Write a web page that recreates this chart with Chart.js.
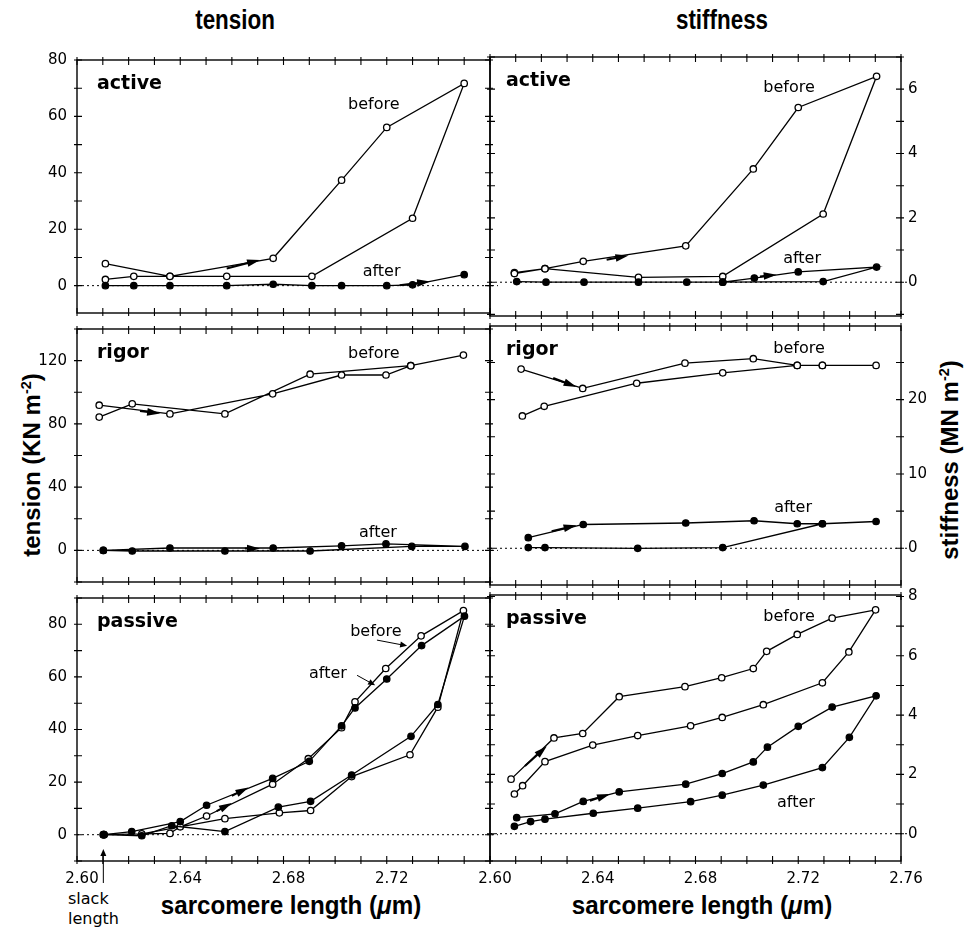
<!DOCTYPE html>
<html>
<head>
<meta charset="utf-8">
<script src="https://cdn.jsdelivr.net/npm/chart.js@4.4.1/dist/chart.umd.min.js"></script>
<style>
  body { margin: 0; background: #fff; }
  #wrap { position: relative; width: 964px; height: 932px; overflow: hidden; font-family: "Liberation Sans", Arial, sans-serif; color: #000; }
  canvas { position: absolute; }
  .txt { position: absolute; white-space: nowrap; }
  .title { font-weight: bold; font-size: 28px; transform: translate(-50%, -50%) scaleX(0.8); }
  .ytitle { font-weight: bold; font-size: 24px; transform: translate(-50%, -50%) rotate(-90deg); }
  .xtitle { font-weight: bold; font-size: 26px; transform: translate(-50%, -50%) scaleX(0.93); }
  sup { font-size: 0.6em; }
</style>
</head>
<body>
<div id="wrap">
  <div class="txt title" style="left:235px; top:20px;">tension</div>
  <div class="txt title" style="left:722px; top:20px;">stiffness</div>
  <div class="txt ytitle" style="left:32px; top:465px;">tension (KN m<sup>-2</sup>)</div>
  <div class="txt ytitle" style="left:950px; top:460px;">stiffness (MN m<sup>-2</sup>)</div>
  <div class="txt xtitle" style="left:291px; top:905px;">sarcomere length (<i>μ</i>m)</div>
  <div class="txt xtitle" style="left:702px; top:905px;">sarcomere length (<i>μ</i>m)</div>
  <div class="txt" style="left:68px; top:889px; font: 16px 'DejaVu Sans'; line-height:20px;">slack<br>length</div>
</div>
<script>
// x axis (sarcomere length, um)
const xTicks = [2.60, 2.64, 2.68, 2.72, 2.76];
const xTicksLeft = [2.60, 2.64, 2.68, 2.72];

// y tick labels
const tensionActiveTicks = [0, 20, 40, 60, 80];
const tensionRigorTicks = [0, 40, 80, 120];
const tensionPassiveTicks = [0, 20, 40, 60, 80];
const stiffActiveTicks = [0, 2, 4, 6];
const stiffRigorTicks = [0, 10, 20];
const stiffPassiveTicks = [0, 2, 4, 6, 8];

// [sarcomere length, value] in the order the loop was traced
const activeTensionBefore = [[2.611, 7.8], [2.636, 3.3], [2.676, 9.7], [2.7025, 37.4], [2.720, 56.1], [2.750, 71.7], [2.730, 23.9], [2.691, 3.3], [2.658, 3.3], [2.636, 3.3], [2.622, 3.3], [2.611, 2.2]];
const activeTensionAfter = [[2.611, 0], [2.622, 0], [2.636, 0], [2.658, 0], [2.676, 0.5], [2.691, 0], [2.7025, 0], [2.720, 0], [2.730, 0.3], [2.750, 3.9]];

const activeStiffBefore = [[2.6095, 0.30], [2.6214, 0.42], [2.6363, 0.65], [2.6762, 1.13], [2.7025, 3.52], [2.720, 5.43], [2.7505, 6.40], [2.7297, 2.12], [2.6906, 0.18], [2.6578, 0.15], [2.6214, 0.42], [2.6095, 0.27]];
const activeStiffAfter = [[2.6104, 0.02], [2.6218, 0], [2.6366, 0], [2.6578, 0], [2.6766, 0], [2.6906, 0], [2.7029, 0.13], [2.720, 0.32], [2.7505, 0.47], [2.7297, 0.02], [2.6906, 0]];

const rigorTensionBefore = [[2.6086, 91.8], [2.636, 86.3], [2.6758, 99.0], [2.7025, 110.9], [2.7197, 110.9], [2.7293, 116.8], [2.7497, 123.5], [2.7293, 116.8], [2.6903, 111.4], [2.6573, 86.3], [2.6214, 92.7], [2.6086, 84.3]];
const rigorTensionAfter = [[2.6102, 0], [2.636, 1.5], [2.676, 1.5], [2.7025, 2.9], [2.7197, 4.1], [2.7503, 2.5], [2.7297, 2.5], [2.6903, -0.4], [2.6573, -0.4], [2.6214, -0.4], [2.6102, 0]];

const rigorStiffBefore = [[2.6121, 24.1], [2.6361, 21.5], [2.6759, 24.9], [2.7025, 25.5], [2.7196, 24.6], [2.7294, 24.6], [2.7503, 24.6], [2.7294, 24.6], [2.7196, 24.6], [2.6906, 23.6], [2.6571, 22.2], [2.6211, 19.1], [2.6126, 17.8]];
const rigorStiffAfter = [[2.6149, 1.42], [2.6363, 3.2], [2.6762, 3.4], [2.7028, 3.7], [2.7196, 3.3], [2.7294, 3.3], [2.7503, 3.6], [2.7294, 3.3], [2.6906, 0.1], [2.6575, 0], [2.6214, 0.1], [2.6149, 0.1]];

const passiveTensionBefore = [[2.6102, 0], [2.636, 0.5], [2.640, 3.0], [2.6502, 7.1], [2.6758, 19.2], [2.6896, 28.9], [2.7025, 40.7], [2.7077, 50.5], [2.7196, 63.2], [2.7333, 75.6], [2.7497, 85.2], [2.7398, 48.5], [2.729, 30.4], [2.7064, 22.1], [2.6905, 9.2], [2.6784, 8.3], [2.6573, 6.1], [2.6251, 0.3], [2.6102, 0]];
const passiveTensionAfter = [[2.6105, 0], [2.6212, 1.2], [2.640, 5.0], [2.6502, 11.2], [2.6758, 21.4], [2.690, 27.9], [2.7025, 41.4], [2.7077, 48.2], [2.720, 59.2], [2.7335, 71.9], [2.7501, 83.1], [2.7398, 49.5], [2.7294, 37.4], [2.7064, 22.7], [2.6905, 12.7], [2.678, 10.5], [2.6573, 1.2], [2.6367, 3.4], [2.6251, -0.4], [2.6105, 0]];

const passiveStiffBefore = [[2.6082, 1.84], [2.6249, 3.23], [2.6361, 3.38], [2.6503, 4.62], [2.6759, 4.96], [2.6902, 5.26], [2.7025, 5.57], [2.7077, 6.15], [2.7196, 6.72], [2.7332, 7.27], [2.7501, 7.55], [2.7397, 6.13], [2.7294, 5.09], [2.7064, 4.35], [2.6904, 3.92], [2.6781, 3.64], [2.6575, 3.31], [2.640, 2.99], [2.6214, 2.43], [2.6127, 1.62], [2.6095, 1.34]];
const passiveStiffAfter = [[2.6104, 0.54], [2.6253, 0.67], [2.6363, 1.09], [2.6503, 1.41], [2.6762, 1.67], [2.6904, 2.03], [2.7025, 2.42], [2.708, 2.92], [2.720, 3.62], [2.7332, 4.27], [2.7503, 4.65], [2.7399, 3.25], [2.7294, 2.23], [2.7064, 1.64], [2.6904, 1.30], [2.6781, 1.08], [2.6575, 0.86], [2.6402, 0.69], [2.6214, 0.49], [2.6158, 0.41], [2.6095, 0.25]];

const slackLength = 2.6102;

// panel boxes on the page
const colX = [[77, 490], [490, 901]];
const rowY = [[55, 324], [324, 593], [593, 861]];
const PAD_L = 70, PAD_R = 60, PAD_T = 14;

const panels = [
  { row: 0, col: 0, name: 'active', before: activeTensionBefore, after: activeTensionAfter, yMin: -9.7, yMax: 80, ticks: tensionActiveTicks, minor: 10,
    notes: [['before', 2.715, 64], ['after', 2.718, 5]],
    arrows: [[2.658, 6.1, 2.6709, 9.1], [2.725, 0.1, 2.7368, 1.5]] },
  { row: 0, col: 1, name: 'active', before: activeStiffBefore, after: activeStiffAfter, yMin: -1.05, yMax: 7.0, ticks: stiffActiveTicks, minor: 1,
    notes: [['before', 2.7164, 6.04], ['after', 2.7215, 0.73]],
    arrows: [[2.6454, 0.70, 2.6539, 0.83], [2.7051, 0.18, 2.7116, 0.23]] },
  { row: 1, col: 0, name: 'rigor', before: rigorTensionBefore, after: rigorTensionAfter, yMin: -20, yMax: 140, ticks: tensionRigorTicks, minor: 20,
    notes: [['before', 2.715, 124.3], ['after', 2.7166, 10.8]],
    arrows: [[2.6244, 88.2, 2.6322, 86.5], [2.665, 1.2, 2.6709, 1.2]] },
  { row: 1, col: 1, name: 'rigor', before: rigorStiffBefore, after: rigorStiffAfter, yMin: -4.94, yMax: 29.9, ticks: stiffRigorTicks, minor: 5,
    notes: [['before', 2.7203, 26.8], ['after', 2.718, 5.5]],
    arrows: [[2.6246, 22.9, 2.6337, 21.7], [2.624, 2.3, 2.6337, 3.1]] },
  { row: 2, col: 0, name: 'passive', before: passiveTensionBefore, after: passiveTensionAfter, yMin: -10, yMax: 90, ticks: tensionPassiveTicks, minor: 10,
    notes: [['before', 2.7158, 77], ['after', 2.6972, 61.3]],
    arrows: [[2.6541, 9.0, 2.66, 12.1], [2.66, 14.8, 2.6664, 17.9], [2.7162, 74, 2.7279, 71.8, true], [2.7085, 60.6, 2.7155, 56.8, true]],
    slack: true },
  { row: 2, col: 1, name: 'passive', before: passiveStiffBefore, after: passiveStiffAfter, yMin: -0.92, yMax: 8.05, ticks: stiffPassiveTicks, minor: 1,
    notes: [['before', 2.7164, 7.33], ['after', 2.7191, 1.05]],
    arrows: [[2.6136, 2.28, 2.6221, 2.95], [2.6389, 1.11, 2.6467, 1.34]] }
];

function drawArrow(ctx, x1, y1, x2, y2, thin) {
  const ang = Math.atan2(y2 - y1, x2 - x1);
  const len = thin ? 7 : 13, hw = thin ? 3 : 3.8;
  const c = Math.cos(ang), s = Math.sin(ang);
  ctx.lineWidth = thin ? 1 : 2;
  ctx.beginPath();
  ctx.moveTo(x1, y1);
  ctx.lineTo(x2 - c * len * 0.8, y2 - s * len * 0.8);
  ctx.stroke();
  ctx.beginPath();
  ctx.moveTo(x2, y2);
  ctx.lineTo(x2 - len * c + hw * s, y2 - len * s - hw * c);
  ctx.lineTo(x2 - len * c - hw * s, y2 - len * s + hw * c);
  ctx.closePath();
  ctx.fill();
}

function framePlugin(p) {
  return {
    id: 'frame',
    beforeDatasetsDraw(chart) {
      const { ctx, chartArea: a, scales } = chart;
      const y0 = scales.y.getPixelForValue(0);
      ctx.save();
      ctx.strokeStyle = '#000';
      ctx.lineWidth = 1;
      ctx.setLineDash([2, 3]);
      ctx.beginPath();
      ctx.moveTo(a.left, y0);
      ctx.lineTo(a.right + 8, y0);
      ctx.stroke();
      ctx.restore();
    },
    afterDatasetsDraw(chart) {
      const { ctx, chartArea: a, scales: { x, y } } = chart;
      ctx.save();
      ctx.strokeStyle = '#000';
      ctx.fillStyle = '#000';
      ctx.lineWidth = 1.4;
      ctx.strokeRect(a.left, a.top, a.right - a.left, a.bottom - a.top);

      // minor ticks on all four sides
      ctx.lineWidth = 1.1;
      ctx.beginPath();
      for (let i = 0; i <= 16; i++) {
        const px = x.getPixelForValue(2.60 + i * 0.01);
        ctx.moveTo(px, a.bottom + 3); ctx.lineTo(px, a.bottom - 5);
        ctx.moveTo(px, a.top - 3); ctx.lineTo(px, a.top + 5);
      }
      for (let v = Math.ceil(p.yMin / p.minor) * p.minor; v <= p.yMax + 1e-9; v += p.minor) {
        const py = y.getPixelForValue(v);
        ctx.moveTo(a.left - 3, py); ctx.lineTo(a.left + 5, py);
        ctx.moveTo(a.right + 3, py); ctx.lineTo(a.right - 5, py);
      }
      ctx.stroke();

      // panel name
      ctx.font = 'bold 19px "DejaVu Sans"';
      ctx.textAlign = 'left';
      ctx.textBaseline = 'alphabetic';
      ctx.fillText(p.name, a.left + (p.col === 0 ? 20 : 16), a.top + 29);

      // before / after
      ctx.font = '16px "DejaVu Sans"';
      ctx.textAlign = 'center';
      ctx.textBaseline = 'middle';
      p.notes.forEach(([t, vx, vy]) => ctx.fillText(t, x.getPixelForValue(vx), y.getPixelForValue(vy)));

      p.arrows.forEach(([x1, y1, x2, y2, thin]) =>
        drawArrow(ctx, x.getPixelForValue(x1), y.getPixelForValue(y1), x.getPixelForValue(x2), y.getPixelForValue(y2), thin));

      if (p.slack) {
        const sx = x.getPixelForValue(slackLength);
        drawArrow(ctx, sx, a.bottom + 22, sx, a.bottom - 12, true);
      }
      ctx.restore();
    }
  };
}

function series(pairs, filled) {
  return {
    data: pairs.map(([x, y]) => ({ x, y })),
    showLine: true,
    borderColor: '#000',
    borderWidth: 1.3,
    tension: 0,
    pointRadius: 3.2,
    pointBorderWidth: 1.3,
    pointBorderColor: '#000',
    pointBackgroundColor: filled ? '#000' : '#fff'
  };
}

const tickFont = { family: 'DejaVu Sans', size: 15 };
const wrap = document.getElementById('wrap');

panels.forEach(p => {
  const [x0, x1] = colX[p.col];
  const [y0, y1] = rowY[p.row];
  const padB = p.row === 2 ? 40 : 8;
  const canvas = document.createElement('canvas');
  canvas.width = (x1 - x0) + PAD_L + PAD_R;
  canvas.height = (y1 - y0) + PAD_T + padB;
  canvas.style.left = (x0 - PAD_L) + 'px';
  canvas.style.top = (y0 - PAD_T) + 'px';
  wrap.appendChild(canvas);

  const ySide = p.col === 0 ? 'left' : 'right';
  const otherSide = p.col === 0 ? 'right' : 'left';
  const hidden = { grid: { display: false }, border: { display: false }, ticks: { display: false } };

  new Chart(canvas, {
    type: 'scatter',
    data: { datasets: [series(p.after, true), series(p.before, false)] },
    options: {
      responsive: false,
      animation: false,
      devicePixelRatio: 1,
      layout: { padding: 0 },
      plugins: { legend: { display: false }, tooltip: { enabled: false } },
      scales: {
        x: {
          type: 'linear', position: 'bottom', min: 2.60, max: 2.76,
          afterFit: s => { s.height = padB; },
          afterBuildTicks: s => { s.ticks = (p.col === 0 ? xTicksLeft : xTicks).map(v => ({ value: v })); },
          grid: { display: false, drawTicks: false },
          border: { display: false },
          ticks: { display: p.row === 2, padding: 9, labelOffset: 5, color: '#000', font: tickFont, callback: v => v.toFixed(2) }
        },
        xTop: Object.assign({ type: 'linear', position: 'top', min: 2.60, max: 2.76, afterFit: s => { s.height = PAD_T; } }, hidden),
        y: {
          type: 'linear', position: ySide, min: p.yMin, max: p.yMax,
          afterFit: s => { s.width = p.col === 0 ? PAD_L : PAD_R; },
          afterBuildTicks: s => { s.ticks = p.ticks.map(v => ({ value: v })); },
          grid: { display: false, drawTicks: false },
          border: { display: false },
          ticks: { padding: p.col === 0 ? 10 : 7, color: '#000', font: tickFont, callback: v => String(v) }
        },
        yOther: Object.assign({ type: 'linear', position: otherSide, min: p.yMin, max: p.yMax, afterFit: s => { s.width = p.col === 0 ? PAD_R : PAD_L; } }, hidden)
      }
    },
    plugins: [framePlugin(p)]
  });
});
</script>
</body>
</html>
